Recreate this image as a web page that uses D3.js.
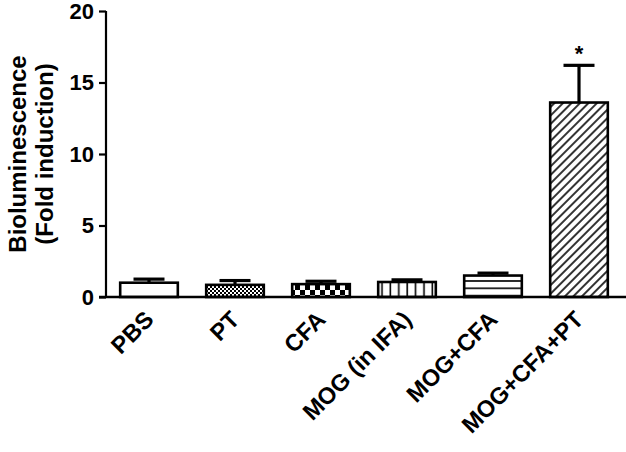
<!DOCTYPE html>
<html>
<head>
<meta charset="utf-8">
<script src="https://cdn.jsdelivr.net/npm/d3@7"></script>
<style>
  body { margin: 0; background: #fff; }
  svg { display: block; font-family: Arial, "Liberation Sans", sans-serif; font-weight: bold; }
</style>
</head>
<body>
<div id="chart"></div>
<script>
// data
var groups = ["PBS", "PT", "CFA", "MOG (in IFA)", "MOG+CFA", "MOG+CFA+PT"]
var foldMeans = [1.0, 0.85, 0.9, 1.05, 1.5, 13.6]
var foldErrors = [0.25, 0.3, 0.2, 0.15, 0.17, 2.6]
var fills = ["white", "url(#dots)", "url(#checks)", "url(#vlines)", "url(#hlines)", "url(#diag)"]
var starred = [false, false, false, false, false, true]
var yTicks = [0, 5, 10, 15, 20]

var width = 626, height = 452
var margin = {top: 11, right: 4, bottom: 155, left: 106}
var font = "Arial, 'Liberation Sans', sans-serif"

var svg = d3.select("#chart").append("svg")
  .attr("width", width)
  .attr("height", height)

// fill patterns
var defs = svg.append("defs")

var dots = defs.append("pattern").attr("id", "dots")
  .attr("patternUnits", "userSpaceOnUse").attr("width", 4).attr("height", 4)
dots.append("rect").attr("width", 4).attr("height", 4).attr("fill", "white")
dots.append("rect").attr("width", 2).attr("height", 2).attr("fill", "black")
dots.append("rect").attr("x", 2).attr("y", 2).attr("width", 2).attr("height", 2).attr("fill", "black")

var checks = defs.append("pattern").attr("id", "checks")
  .attr("patternUnits", "userSpaceOnUse").attr("width", 10).attr("height", 10)
checks.append("rect").attr("width", 10).attr("height", 10).attr("fill", "white")
checks.append("rect").attr("width", 5).attr("height", 5).attr("fill", "black")
checks.append("rect").attr("x", 5).attr("y", 5).attr("width", 5).attr("height", 5).attr("fill", "black")

var vlines = defs.append("pattern").attr("id", "vlines")
  .attr("patternUnits", "userSpaceOnUse").attr("width", 8.4).attr("height", 10)
vlines.append("rect").attr("width", 8.4).attr("height", 10).attr("fill", "white")
vlines.append("line").attr("x1", 4).attr("x2", 4).attr("y1", 0).attr("y2", 10)
  .attr("stroke", "black").attr("stroke-width", 1.6)

var hlines = defs.append("pattern").attr("id", "hlines")
  .attr("patternUnits", "userSpaceOnUse").attr("width", 10).attr("height", 7.3)
hlines.append("rect").attr("width", 10).attr("height", 7.3).attr("fill", "white")
hlines.append("line").attr("x1", 0).attr("x2", 10).attr("y1", 3.6).attr("y2", 3.6)
  .attr("stroke", "black").attr("stroke-width", 1.6)

var diag = defs.append("pattern").attr("id", "diag")
  .attr("patternUnits", "userSpaceOnUse").attr("width", 6).attr("height", 6)
  .attr("patternTransform", "rotate(45)")
diag.append("rect").attr("width", 6).attr("height", 6).attr("fill", "white")
diag.append("line").attr("x1", 3).attr("x2", 3).attr("y1", 0).attr("y2", 6)
  .attr("stroke", "black").attr("stroke-width", 1.6)

// scales
var x = d3.scaleBand()
  .domain(groups)
  .range([margin.left, 622])
  .paddingInner(0.33)
  .paddingOuter(0.165)

var y = d3.scaleLinear()
  .domain([0, 20])
  .range([height - margin.bottom, margin.top])

var rows = groups.map(function(g, i) {
  return {name: g, value: foldMeans[i], err: foldErrors[i], fill: fills[i], star: starred[i]}
})

// error bars (upper only), drawn first so bars cover the stem
var capW = 31
svg.selectAll(".stem").data(rows).enter().append("line")
  .attr("x1", function(d) { return x(d.name) + x.bandwidth() / 2 })
  .attr("x2", function(d) { return x(d.name) + x.bandwidth() / 2 })
  .attr("y1", function(d) { return y(d.value) })
  .attr("y2", function(d) { return y(d.value + d.err) })
  .attr("stroke", "black").attr("stroke-width", 3.2)

svg.selectAll(".cap").data(rows).enter().append("line")
  .attr("x1", function(d) { return x(d.name) + x.bandwidth() / 2 - capW / 2 })
  .attr("x2", function(d) { return x(d.name) + x.bandwidth() / 2 + capW / 2 })
  .attr("y1", function(d) { return y(d.value + d.err) })
  .attr("y2", function(d) { return y(d.value + d.err) })
  .attr("stroke", "black").attr("stroke-width", 3.2)

// bars
svg.selectAll(".bar").data(rows).enter().append("rect")
  .attr("x", function(d) { return x(d.name) })
  .attr("y", function(d) { return y(d.value) })
  .attr("width", x.bandwidth())
  .attr("height", function(d) { return y(0) - y(d.value) })
  .attr("fill", function(d) { return d.fill })
  .attr("stroke", "black").attr("stroke-width", 2.6)

// significance star
svg.selectAll(".star").data(rows.filter(function(d) { return d.star })).enter().append("text")
  .attr("x", function(d) { return x(d.name) + x.bandwidth() / 2 })
  .attr("y", function(d) { return y(d.value + d.err) - 4 })
  .attr("text-anchor", "middle")
  .attr("font-size", 22)
  .text("*")

// y axis
var yAxis = svg.append("g")
  .attr("transform", "translate(" + margin.left + ",0)")
  .call(d3.axisLeft(y).tickValues(yTicks).tickSize(7).tickPadding(5))
yAxis.selectAll("path, line").attr("stroke", "black").attr("stroke-width", 2.2)
yAxis.select(".domain").attr("d", "M0," + y(20) + "V" + y(0))
yAxis.selectAll("text").attr("font-size", 22).attr("font-weight", "bold")
  .attr("font-family", font).attr("fill", "black")

// x axis baseline
var xAxis = svg.append("g")
  .attr("transform", "translate(0," + y(0) + ")")
  .call(d3.axisBottom(x).tickSize(0))
xAxis.select(".domain").attr("d", "M" + (margin.left - 7) + ",0H" + width)
  .attr("stroke", "black").attr("stroke-width", 2.6)
xAxis.selectAll("text")
  .attr("font-size", 23.5).attr("font-weight", "bold")
  .attr("font-family", font).attr("fill", "black")
  .attr("text-anchor", "end")
  .attr("x", 0).attr("y", 0).attr("dy", null)
  .attr("transform", "translate(6,24) rotate(-45)")

// y title
var title = svg.append("text")
  .attr("transform", "translate(0," + y(10) + ") rotate(-90)")
  .attr("text-anchor", "middle")
  .attr("font-size", 24)
title.append("tspan").attr("x", 0).attr("y", 26).text("Bioluminescence")
title.append("tspan").attr("x", 0).attr("y", 53).text("(Fold induction)")
</script>
</body>
</html>
